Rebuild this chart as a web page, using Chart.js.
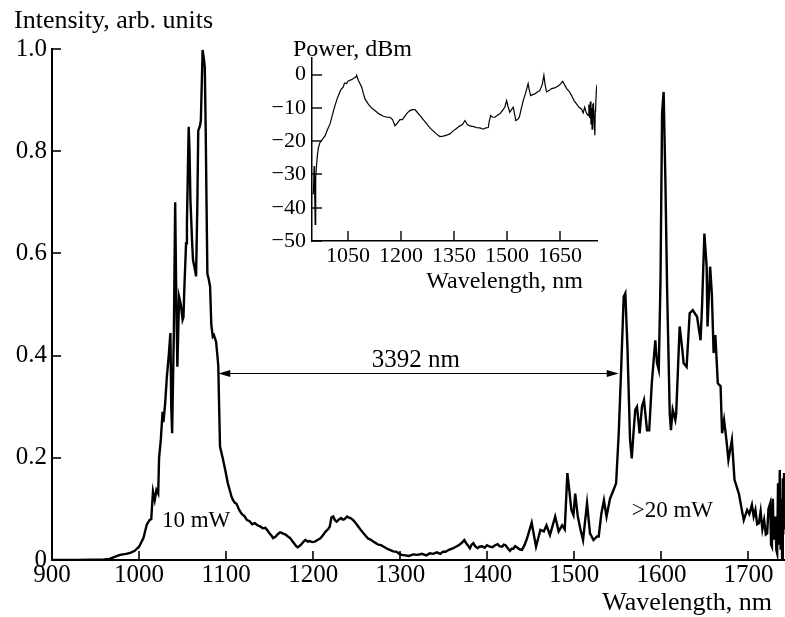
<!DOCTYPE html>
<html>
<head>
<meta charset="utf-8">
<script src="https://cdn.jsdelivr.net/npm/chart.js@4/dist/chart.umd.min.js"></script>
<style>
  html, body { margin: 0; padding: 0; background: #fff; }
  #wrap { position: relative; width: 785px; height: 617px; }
  #main { position: absolute; left: 0; top: 0; }
  #inset { position: absolute; left: 250px; top: 30px; }
</style>
</head>
<body>
<div id="wrap">
  <canvas id="main" width="785" height="617"></canvas>
  <canvas id="inset" width="350" height="270"></canvas>
</div>
<script>
// ---------------- DATA ----------------
// Main spectrum: wavelength (nm) and intensity (arb. units)
const mainWavelength = [
  // 900 - 1102
  900, 930, 960, 966, 972, 978, 985, 990, 995, 1000,
  1005, 1009, 1012, 1014, 1016, 1018, 1020, 1022, 1023, 1025,
  1027, 1028, 1030, 1032, 1034, 1036, 1037, 1038, 1040, 1041.5,
  1042.5, 1044, 1046, 1048, 1050, 1051, 1052, 1054, 1055, 1057,
  1058, 1059, 1061, 1062, 1064, 1065.5, 1067, 1068, 1070, 1071,
  1073, 1074.5, 1075.5, 1076.5, 1077.5, 1078.5, 1080, 1081.6, 1083, 1084.7,
  1086, 1088.5, 1090, 1091, 1092, 1093, 1096, 1099, 1102,
  // 1104.6 - 1302
  1104.6, 1106, 1108, 1110, 1112, 1115, 1118, 1121, 1124, 1127,
  1130, 1133, 1136, 1139, 1142, 1145, 1147, 1150, 1152, 1154,
  1157, 1159, 1162, 1164, 1166, 1168, 1171, 1173.6, 1176, 1178,
  1180, 1182, 1184, 1186, 1189, 1191, 1194, 1196, 1199, 1202,
  1205, 1208, 1211, 1214, 1217, 1219, 1221, 1223, 1225, 1227,
  1230, 1232, 1234, 1236, 1239, 1241, 1243, 1246, 1249, 1252,
  1255, 1258, 1261, 1263, 1266, 1269, 1272, 1275, 1278, 1281,
  1285, 1288, 1292, 1296, 1299, 1302,
  // 1306 - 1445.6
  1306, 1310, 1315, 1320, 1325, 1330, 1334, 1338, 1342, 1346,
  1349, 1352, 1356, 1361, 1364, 1368, 1371, 1373.6, 1376, 1378,
  1380, 1382, 1384, 1386, 1389, 1391, 1394, 1397, 1399.6, 1403,
  1406, 1409, 1412, 1414, 1417, 1419, 1421, 1424, 1426, 1428,
  1430, 1432, 1434, 1437, 1440, 1443, 1445.6,
  // 1451 - 1742
  1451, 1456, 1461, 1465, 1468, 1472,
  1478, 1482, 1486, 1489, 1492, 1494, 1496.6, 1499, 1501, 1504,
  1507, 1510, 1512, 1514.6, 1518, 1522, 1526, 1528, 1531, 1534,
  1537, 1541, 1545, 1548, 1551, 1553.6, 1556.7, 1558.6, 1561, 1564,
  1566, 1568, 1570, 1572, 1575, 1577.7, 1580, 1583.5, 1586, 1589,
  1593, 1595, 1597, 1599, 1600.8, 1602.6, 1604.6, 1606.6, 1609.6, 1611,
  1613, 1616, 1617, 1621, 1623.5, 1625.6, 1629, 1632.5, 1636, 1641,
  1645, 1646.7, 1649.4, 1652, 1653, 1656, 1658, 1660, 1662, 1664.8,
  1668, 1669.7, 1672, 1674.7, 1677, 1681, 1684, 1689, 1694.6, 1698.5,
  1701, 1704, 1706, 1708, 1710, 1712, 1714, 1716, 1718, 1720,
  1721.5, 1723, 1725, 1726, 1727, 1728, 1729, 1731, 1732, 1733,
  1734, 1735, 1736, 1737, 1738, 1738.7, 1739.5, 1740, 1741, 1742
];
const mainIntensity = [
  // 900 - 1102
  0, 0, 0.001, 0.002, 0.006, 0.010, 0.012, 0.014, 0.018, 0.026,
  0.043, 0.070, 0.078, 0.080, 0.134, 0.117, 0.137, 0.130, 0.200, 0.235,
  0.290, 0.270, 0.307, 0.360, 0.398, 0.444, 0.300, 0.248, 0.450, 0.700,
  0.550, 0.378, 0.515, 0.500, 0.470, 0.475, 0.530, 0.620, 0.660, 0.848,
  0.800, 0.705, 0.620, 0.587, 0.570, 0.555, 0.700, 0.840, 0.850, 0.860,
  0.998, 0.980, 0.965, 0.850, 0.700, 0.560, 0.550, 0.535, 0.460, 0.437,
  0.440, 0.427, 0.400, 0.380, 0.300, 0.222, 0.200, 0.176, 0.150,
  // 1104.6 - 1302
  0.134, 0.125, 0.117, 0.112, 0.110, 0.098, 0.090, 0.086, 0.078, 0.076,
  0.070, 0.072, 0.068, 0.066, 0.062, 0.063, 0.059, 0.052, 0.048, 0.043,
  0.046, 0.050, 0.054, 0.053, 0.051, 0.050, 0.046, 0.043, 0.037, 0.033,
  0.028, 0.025, 0.027, 0.030, 0.036, 0.039, 0.036, 0.037, 0.035, 0.036,
  0.039, 0.042, 0.048, 0.055, 0.060, 0.065, 0.083, 0.085, 0.078, 0.075,
  0.080, 0.082, 0.079, 0.080, 0.085, 0.083, 0.082, 0.078, 0.072, 0.065,
  0.058, 0.052, 0.046, 0.042, 0.040, 0.036, 0.033, 0.030, 0.029, 0.026,
  0.022, 0.020, 0.017, 0.016, 0.012, 0.010,
  // 1306 - 1445.6
  0.009, 0.008, 0.011, 0.010, 0.012, 0.009, 0.013, 0.012, 0.015, 0.012,
  0.016, 0.016, 0.020, 0.023, 0.026, 0.030, 0.034, 0.039, 0.032, 0.028,
  0.023, 0.030, 0.033, 0.027, 0.023, 0.026, 0.027, 0.024, 0.029, 0.026,
  0.025, 0.029, 0.031, 0.027, 0.026, 0.030, 0.029, 0.022, 0.018, 0.022,
  0.022, 0.027, 0.025, 0.021, 0.020, 0.030, 0.042,
  // 1451 - 1742
  0.073, 0.026, 0.059, 0.056, 0.068, 0.049,
  0.085, 0.056, 0.068, 0.060, 0.170, 0.140, 0.098, 0.088, 0.130, 0.085,
  0.060, 0.039, 0.070, 0.111, 0.052, 0.039, 0.046, 0.046, 0.090, 0.117,
  0.085, 0.120, 0.137, 0.150, 0.248, 0.365, 0.515, 0.522, 0.417, 0.235,
  0.199, 0.250, 0.294, 0.300, 0.248, 0.300, 0.313, 0.254, 0.254, 0.346,
  0.430, 0.385, 0.372, 0.548, 0.874, 0.916, 0.743, 0.528, 0.287, 0.254,
  0.294, 0.274, 0.287, 0.457, 0.420, 0.385, 0.378, 0.483, 0.489, 0.476,
  0.430, 0.496, 0.639, 0.574, 0.457, 0.574, 0.520, 0.405, 0.440, 0.346,
  0.340, 0.248, 0.274, 0.235, 0.196, 0.235, 0.157, 0.130, 0.078, 0.098,
  0.090, 0.108, 0.085, 0.098, 0.070, 0.072, 0.095, 0.060, 0.078, 0.050,
  0.052, 0.100, 0.111, 0.030, 0.026, 0.120, 0.040, 0.085, 0.020, 0.013,
  0.150, 0.030, 0.176, 0.020, 0.120, 0.000, 0.160, 0.050, 0.170, 0.060
];
const mainXTicks = [900, 1000, 1100, 1200, 1300, 1400, 1500, 1600, 1700];
const mainYTicks = [0, 0.2, 0.4, 0.6, 0.8, 1.0];
const mainYTickLabels = ['0', '0.2', '0.4', '0.6', '0.8', '1.0'];

// Annotation (double arrow between the two bands)
const arrowFrom = 1091;
const arrowTo = 1551;
const arrowLevel = 0.365;
const arrowLabel = '3392 nm';
const leftBandLabel = '10 mW';
const rightBandLabel = '>20 mW';

// Inset: wavelength (nm) and power (dBm)
const insetWavelength = [
  950, 952, 954, 955, 957, 958, 959, 961, 963, 966,
  970.6, 977, 984.8, 992, 999, 1006, 1013, 1020, 1027, 1030,
  1036.6, 1040, 1046, 1050, 1055.5, 1060, 1067, 1072, 1074.5, 1079,
  1083, 1088.6, 1093, 1098, 1107, 1116, 1126, 1138, 1150, 1160,
  1169, 1176, 1183, 1190, 1197, 1204, 1211, 1218, 1225, 1232,
  1239.5, 1246, 1254, 1263, 1273, 1282, 1291, 1300, 1310, 1320,
  1329, 1338, 1348, 1357, 1367, 1374, 1381, 1388, 1395, 1405,
  1414, 1424, 1433, 1440, 1447, 1450, 1454, 1460, 1466, 1473,
  1480, 1487, 1494, 1499, 1503, 1508, 1513, 1518, 1522, 1525,
  1530, 1535, 1540, 1546, 1553, 1560, 1563, 1567, 1573, 1579,
  1586, 1593, 1600, 1604.6, 1608, 1612, 1619, 1626.5, 1635, 1645,
  1652, 1657.6, 1663, 1669, 1676, 1683, 1690, 1697, 1704, 1711,
  1716, 1720, 1725, 1730, 1732, 1734, 1736, 1738, 1740, 1741,
  1743, 1745, 1747, 1749, 1750, 1751, 1753, 1755
];
const insetPower = [
  -36, -35.5, -27.5, -30, -45, -33, -31, -27, -24.5, -22,
  -20.4, -19.5, -18.4, -16.5, -14.8, -12, -9.3, -7, -5.2, -4.5,
  -3.7, -2.5, -2.7, -2, -1.7, -1.5, -1.0, -0.8, -0.2, -1.7,
  -2.5, -3.7, -5.5, -7.3, -8.8, -10, -10.8, -11.8, -12.5, -12.8,
  -12.8, -13.5, -15.4, -14.5, -13.5, -13.5, -12.5, -11.5, -10.8, -10.5,
  -10.5, -11.3, -12.3, -13.5, -14.8, -16, -16.9, -17.8, -18.6, -18.5,
  -18.2, -17.8, -16.9, -16.2, -15.4, -15, -13.8, -15, -15.4, -15.6,
  -15.9, -16, -16.4, -16, -15.9, -14, -12.3, -12.8, -12.8, -12.2,
  -11.8, -10.8, -9.8, -7.8, -9.5, -11.3, -10.5, -9.8, -12, -13.8,
  -13.5, -12.8, -10.5, -7.8, -5.5, -2.7, -4.5, -6.3, -6, -5.8,
  -5.2, -4.8, -3, -0.2, -3, -5.2, -4.8, -4.2, -4, -3.4,
  -2.8, -2.0, -3, -4.2, -5, -6.3, -7.8, -8.8, -9.8, -10.3,
  -11.5, -9.8, -11.5, -12.3, -9, -13, -8.1, -15, -10, -16.4,
  -9, -8.8, -14, -18.2, -11, -10.5, -5, -3
];
const insetXTicks = [1050, 1200, 1350, 1500, 1650];
const insetYTicks = [0, -10, -20, -30, -40, -50];

// ---------------- HELPERS ----------------
const SERIF = "'Liberation Serif', 'Times New Roman', serif";
Chart.defaults.font.family = SERIF;
Chart.defaults.color = '#000';

const inwardTicks = {
  id: 'inwardTicks',
  afterDraw(chart, args, opts) {
    const { ctx, chartArea, scales } = chart;
    ctx.save();
    ctx.strokeStyle = '#000';
    ctx.lineWidth = opts.width || 1.5;
    scales.x.ticks.forEach(t => {
      const px = Math.round(scales.x.getPixelForValue(t.value));
      ctx.beginPath();
      ctx.moveTo(px, chartArea.bottom);
      ctx.lineTo(px, chartArea.bottom - opts.len);
      ctx.stroke();
    });
    scales.y.ticks.forEach(t => {
      const py = Math.round(scales.y.getPixelForValue(t.value));
      ctx.beginPath();
      ctx.moveTo(chartArea.left, py);
      ctx.lineTo(chartArea.left + opts.len, py);
      ctx.stroke();
    });
    ctx.restore();
  }
};

const texts = {
  id: 'texts',
  afterDraw(chart, args, opts) {
    const { ctx, scales } = chart;
    ctx.save();
    ctx.fillStyle = '#000';
    (opts.items || []).forEach(it => {
      ctx.font = it.size + 'px ' + SERIF;
      ctx.textAlign = it.align || 'left';
      ctx.textBaseline = it.baseline || 'alphabetic';
      let x = it.x, y = it.y;
      if (it.dataX !== undefined) x = scales.x.getPixelForValue(it.dataX);
      if (it.dataY !== undefined) y = scales.y.getPixelForValue(it.dataY);
      ctx.fillText(it.text, x, y);
    });
    ctx.restore();
  }
};

const doubleArrow = {
  id: 'doubleArrow',
  afterDraw(chart, args, opts) {
    if (!opts.enabled) return;
    const { ctx, scales } = chart;
    const x1 = scales.x.getPixelForValue(arrowFrom);
    const x2 = scales.x.getPixelForValue(arrowTo);
    const y = Math.round(scales.y.getPixelForValue(arrowLevel)) + 0.5;
    const hl = 12, hw = 3.5;
    ctx.save();
    ctx.strokeStyle = '#000';
    ctx.fillStyle = '#000';
    ctx.lineWidth = 1.2;
    ctx.beginPath();
    ctx.moveTo(x1 + hl - 1, y);
    ctx.lineTo(x2 - hl + 1, y);
    ctx.stroke();
    ctx.beginPath();
    ctx.moveTo(x1, y); ctx.lineTo(x1 + hl, y - hw); ctx.lineTo(x1 + hl, y + hw); ctx.closePath();
    ctx.fill();
    ctx.beginPath();
    ctx.moveTo(x2, y); ctx.lineTo(x2 - hl, y - hw); ctx.lineTo(x2 - hl, y + hw); ctx.closePath();
    ctx.fill();
    ctx.restore();
  }
};

// ---------------- MAIN CHART ----------------
new Chart(document.getElementById('main'), {
  type: 'line',
  data: {
    datasets: [{
      data: mainWavelength.map((x, i) => ({ x: x, y: mainIntensity[i] })),
      borderColor: '#000',
      borderWidth: 2.4,
      pointRadius: 0,
      tension: 0,
      fill: false
    }]
  },
  options: {
    responsive: false,
    animation: false,
    parsing: false,
    layout: { autoPadding: false, padding: { top: 49, right: 0, bottom: 0, left: 0 } },
    plugins: {
      legend: { display: false },
      tooltip: { enabled: false },
      inwardTicks: { len: 9, width: 1.6 },
      doubleArrow: { enabled: true },
      texts: {
        items: [
          { text: 'Intensity, arb. units', x: 14, y: 28, size: 26 },
          { text: 'Wavelength, nm', x: 772, y: 610, size: 26, align: 'right' },
          { text: arrowLabel, dataX: 1318, dataY: 0.378, size: 25, align: 'center' },
          { text: leftBandLabel, dataX: 1065.5, dataY: 0.064, size: 23, align: 'center' },
          { text: rightBandLabel, dataX: 1612.6, dataY: 0.085, size: 23, align: 'center' }
        ]
      }
    },
    scales: {
      x: {
        type: 'linear',
        min: 900,
        max: 1742,
        grid: { display: false, drawTicks: false },
        border: { display: true, color: '#000', width: 2 },
        afterBuildTicks: s => { s.ticks = mainXTicks.map(v => ({ value: v })); },
        afterFit: s => { s.height = 57; },
        ticks: { font: { size: 25 }, color: '#000', padding: 0, maxRotation: 0, autoSkip: false,
                 callback: v => String(v) }
      },
      y: {
        type: 'linear',
        min: 0,
        max: 1,
        grid: { display: false, drawTicks: false },
        border: { display: true, color: '#000', width: 2 },
        afterBuildTicks: s => { s.ticks = mainYTicks.map(v => ({ value: v })); },
        afterFit: s => { s.width = 52; },
        ticks: { font: { size: 25 }, color: '#000', padding: 5, autoSkip: false,
                 callback: v => mainYTickLabels[mainYTicks.findIndex(t => Math.abs(t - v) < 1e-9)] }
      }
    }
  },
  plugins: [inwardTicks, doubleArrow, texts]
});

// ---------------- INSET CHART ----------------
new Chart(document.getElementById('inset'), {
  type: 'line',
  data: {
    datasets: [{
      data: insetWavelength.map((x, i) => ({ x: x, y: insetPower[i] })),
      borderColor: '#000',
      borderWidth: 1.2,
      pointRadius: 0,
      tension: 0,
      fill: false
    }]
  },
  options: {
    responsive: false,
    animation: false,
    parsing: false,
    layout: { autoPadding: false, padding: { top: 28, right: 3, bottom: 0, left: 0 } },
    plugins: {
      legend: { display: false },
      tooltip: { enabled: false },
      inwardTicks: { len: 10, width: 1.4 },
      doubleArrow: { enabled: false },
      texts: {
        items: [
          { text: 'Power, dBm', x: 43, y: 26, size: 24 },
          { text: 'Wavelength, nm', x: 333, y: 258, size: 24, align: 'right' }
        ]
      }
    },
    scales: {
      x: {
        type: 'linear',
        min: 948,
        max: 1755,
        grid: { display: false, drawTicks: false },
        border: { display: true, color: '#000', width: 1.5 },
        afterBuildTicks: s => { s.ticks = insetXTicks.map(v => ({ value: v })); },
        afterFit: s => { s.height = 59; },
        ticks: { font: { size: 22 }, color: '#000', padding: 2, maxRotation: 0, autoSkip: false,
                 callback: v => String(v) }
      },
      y: {
        type: 'linear',
        min: -50,
        max: 5,
        grid: { display: false, drawTicks: false },
        border: { display: true, color: '#000', width: 1.5 },
        afterBuildTicks: s => { s.ticks = insetYTicks.map(v => ({ value: v })); },
        afterFit: s => { s.width = 62; },
        ticks: { font: { size: 22 }, color: '#000', padding: 6, autoSkip: false,
                 callback: v => (v < 0 ? '\u2212' + Math.abs(v) : String(v)) }
      }
    }
  },
  plugins: [inwardTicks, texts]
});
</script>
</body>
</html>
